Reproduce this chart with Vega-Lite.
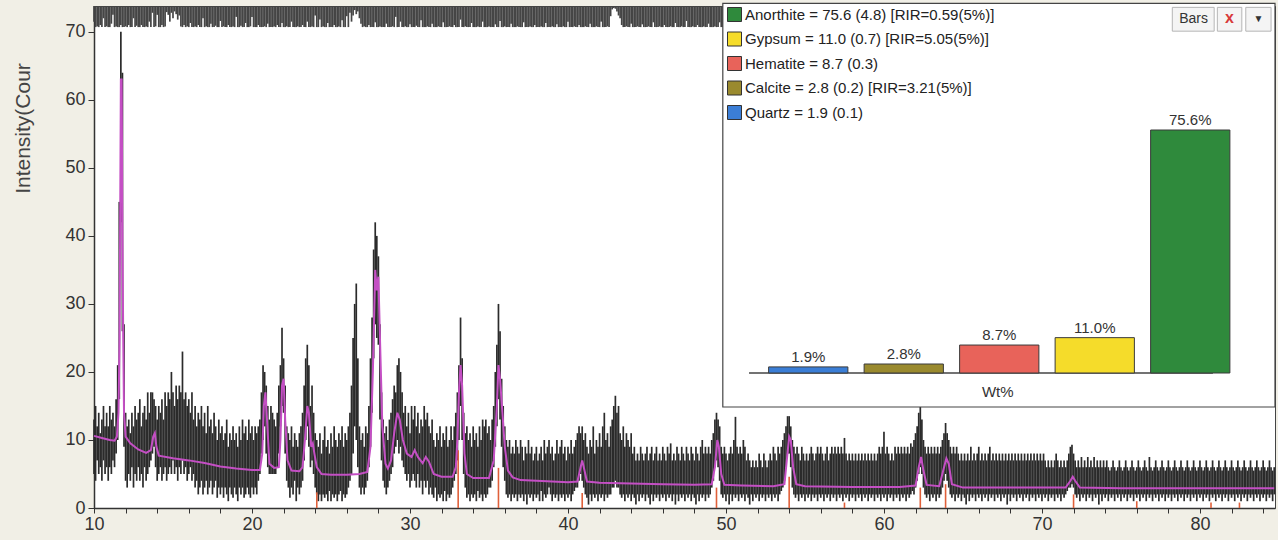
{
"$schema":"https://vega.github.io/schema/vega-lite/v6.json",
"width":1181,"height":502,"autosize":"none",
"padding":{"left":94,"top":6,"right":3,"bottom":32},
"background":"#f1efe6",
"config":{"view":{"fill":"#ffffff","stroke":"#444444","strokeWidth":1},"font":"Liberation Sans"},
"datasets":{
"scan":[
{"t":10.0,"l":5,"h":13,"u":71.5},{"t":10.1,"l":4,"h":15,"u":70.7},{"t":10.2,"l":7,"h":12,"u":70.8},{"t":10.3,"l":5,"h":14,"u":70.7},{"t":10.4,"l":6,"h":11,"u":71},{"t":10.5,"l":4,"h":13,"u":70.7},{"t":10.6,"l":7,"h":15,"u":72},{"t":10.7,"l":5,"h":12,"u":70.7},{"t":10.8,"l":6,"h":14,"u":70.8},{"t":10.9,"l":4,"h":12,"u":70.7},
{"t":11.0,"l":6,"h":15,"u":70.7},{"t":11.1,"l":5,"h":13,"u":71.2},{"t":11.2,"l":7,"h":14,"u":72.5},{"t":11.3,"l":6,"h":12,"u":70.7},{"t":11.4,"l":8,"h":16,"u":70.8},{"t":11.5,"l":10,"h":21,"u":70.7},{"t":11.6,"l":16,"h":45,"u":70.7},{"t":11.7,"l":42,"h":70,"u":71},{"t":11.8,"l":26,"h":64,"u":70.7},{"t":11.9,"l":9,"h":27,"u":70.7},
{"t":12.0,"l":4,"h":14,"u":70.8},{"t":12.1,"l":3,"h":12,"u":70.7},{"t":12.2,"l":5,"h":13,"u":71},{"t":12.3,"l":4,"h":11,"u":70.7},{"t":12.4,"l":6,"h":14,"u":70.7},{"t":12.5,"l":3,"h":12,"u":72},{"t":12.6,"l":5,"h":15,"u":70.7},{"t":12.7,"l":4,"h":13,"u":70.9},{"t":12.8,"l":6,"h":14,"u":70.7},{"t":12.9,"l":4,"h":16,"u":70.7},
{"t":13.0,"l":5,"h":12,"u":71},{"t":13.1,"l":3,"h":14,"u":70.7},{"t":13.2,"l":6,"h":15,"u":70.7},{"t":13.3,"l":4,"h":13,"u":70.8},{"t":13.4,"l":5,"h":17,"u":70.7},{"t":13.5,"l":6,"h":14,"u":71.5},{"t":13.6,"l":7,"h":17,"u":70.7},{"t":13.7,"l":8,"h":17,"u":72.8},{"t":13.8,"l":9,"h":16,"u":70.7},{"t":13.9,"l":6,"h":15,"u":70.8},
{"t":14.0,"l":4,"h":13,"u":72.5},{"t":14.1,"l":5,"h":15,"u":70.7},{"t":14.2,"l":6,"h":14,"u":70.7},{"t":14.3,"l":4,"h":16,"u":71},{"t":14.4,"l":5,"h":13,"u":70.7},{"t":14.5,"l":6,"h":17,"u":70.8},{"t":14.6,"l":4,"h":15,"u":72.9},{"t":14.7,"l":5,"h":17,"u":72.5},{"t":14.8,"l":6,"h":16,"u":71.5},{"t":14.9,"l":5,"h":20,"u":72.8},
{"t":15.0,"l":7,"h":17,"u":72},{"t":15.1,"l":5,"h":15,"u":73},{"t":15.2,"l":6,"h":18,"u":72.6},{"t":15.3,"l":4,"h":16,"u":71.8},{"t":15.4,"l":6,"h":18,"u":72.4},{"t":15.5,"l":5,"h":17,"u":70.8},{"t":15.6,"l":7,"h":23,"u":70.7},{"t":15.7,"l":5,"h":16,"u":71},{"t":15.8,"l":6,"h":17,"u":70.7},{"t":15.9,"l":4,"h":15,"u":70.8},
{"t":16.0,"l":5,"h":16,"u":70.7},{"t":16.1,"l":6,"h":14,"u":71.3},{"t":16.2,"l":4,"h":17,"u":70.7},{"t":16.3,"l":5,"h":13,"u":70.7},{"t":16.4,"l":3,"h":15,"u":70.8},{"t":16.5,"l":4,"h":12,"u":70.7},{"t":16.6,"l":2,"h":14,"u":71},{"t":16.7,"l":3,"h":13,"u":70.7},{"t":16.8,"l":4,"h":15,"u":70.7},{"t":16.9,"l":2,"h":12,"u":72},
{"t":17.0,"l":3,"h":14,"u":70.7},{"t":17.1,"l":4,"h":11,"u":70.8},{"t":17.2,"l":2,"h":15,"u":70.7},{"t":17.3,"l":3,"h":12,"u":70.7},{"t":17.4,"l":4,"h":13,"u":71.2},{"t":17.5,"l":2,"h":11,"u":70.7},{"t":17.6,"l":3,"h":14,"u":70.7},{"t":17.7,"l":4,"h":12,"u":70.9},{"t":17.8,"l":1.5,"h":10,"u":70.7},{"t":17.9,"l":3,"h":13,"u":70.7},
{"t":18.0,"l":2,"h":11,"u":71.6},{"t":18.1,"l":3,"h":12,"u":70.7},{"t":18.2,"l":1.5,"h":10,"u":70.8},{"t":18.3,"l":3,"h":11,"u":70.7},{"t":18.4,"l":2,"h":13,"u":70.7},{"t":18.5,"l":1,"h":9,"u":71},{"t":18.6,"l":3,"h":11,"u":70.7},{"t":18.7,"l":2,"h":10,"u":70.7},{"t":18.8,"l":1.5,"h":12,"u":70.8},{"t":18.9,"l":3,"h":10,"u":70.7},
{"t":19.0,"l":2,"h":11,"u":72.2},{"t":19.1,"l":1,"h":9,"u":70.7},{"t":19.2,"l":3,"h":12,"u":70.7},{"t":19.3,"l":2,"h":10,"u":70.9},{"t":19.4,"l":3,"h":13,"u":70.7},{"t":19.5,"l":1.5,"h":11,"u":70.7},{"t":19.6,"l":2,"h":12,"u":71.3},{"t":19.7,"l":3,"h":10,"u":70.7},{"t":19.8,"l":2,"h":13,"u":70.7},{"t":19.9,"l":1.5,"h":11,"u":70.8},
{"t":20.0,"l":3,"h":12,"u":72.2},{"t":20.1,"l":2,"h":10,"u":70.7},{"t":20.2,"l":3,"h":12,"u":70.7},{"t":20.3,"l":2,"h":11,"u":70.7},{"t":20.4,"l":4,"h":12,"u":71},{"t":20.5,"l":5,"h":13,"u":70.7},{"t":20.6,"l":8,"h":17,"u":70.7},{"t":20.7,"l":10,"h":21,"u":70.7},{"t":20.8,"l":12,"h":20,"u":70.8},{"t":20.9,"l":8,"h":18,"u":70.7},
{"t":21.0,"l":6,"h":15,"u":71.2},{"t":21.1,"l":5,"h":13,"u":70.7},{"t":21.2,"l":5,"h":15,"u":70.7},{"t":21.3,"l":5,"h":14,"u":70.7},{"t":21.4,"l":5,"h":13,"u":70.8},{"t":21.5,"l":5,"h":12,"u":70.7},{"t":21.6,"l":6,"h":14,"u":71},{"t":21.7,"l":8,"h":18,"u":70.7},{"t":21.8,"l":12,"h":21,"u":70.7},{"t":21.9,"l":15,"h":26.5,"u":71.3},
{"t":22.0,"l":14,"h":22,"u":70.7},{"t":22.1,"l":8,"h":18,"u":70.7},{"t":22.2,"l":4,"h":12,"u":70.8},{"t":22.3,"l":3,"h":11,"u":70.7},{"t":22.4,"l":1.5,"h":10,"u":70.7},{"t":22.5,"l":3,"h":12,"u":71.5},{"t":22.6,"l":2,"h":9,"u":70.7},{"t":22.7,"l":4,"h":11,"u":70.7},{"t":22.8,"l":1,"h":10,"u":70.7},{"t":22.9,"l":3,"h":9,"u":70.8},
{"t":23.0,"l":2,"h":11,"u":70.7},{"t":23.1,"l":3,"h":12,"u":70.7},{"t":23.2,"l":4,"h":14,"u":71},{"t":23.3,"l":7,"h":18,"u":70.7},{"t":23.4,"l":10,"h":22,"u":70.7},{"t":23.5,"l":12,"h":24,"u":71.5},{"t":23.6,"l":9,"h":21,"u":70.7},{"t":23.7,"l":6,"h":15,"u":70.7},{"t":23.8,"l":7,"h":18,"u":70.8},{"t":23.9,"l":5,"h":14,"u":70.7},
{"t":24.0,"l":3,"h":11,"u":72.4},{"t":24.1,"l":2,"h":10,"u":70.7},{"t":24.2,"l":1,"h":9,"u":70.7},{"t":24.3,"l":2,"h":11,"u":71.8},{"t":24.4,"l":1,"h":8,"u":70.7},{"t":24.5,"l":2,"h":10,"u":70.8},{"t":24.6,"l":1.5,"h":12,"u":70.7},{"t":24.7,"l":2,"h":9,"u":70.7},{"t":24.8,"l":1,"h":10,"u":71.3},{"t":24.9,"l":2.5,"h":8,"u":70.7},
{"t":25.0,"l":1,"h":11,"u":70.7},{"t":25.1,"l":2,"h":9,"u":70.7},{"t":25.2,"l":1.5,"h":12,"u":71},{"t":25.3,"l":2,"h":10,"u":70.7},{"t":25.4,"l":1,"h":9,"u":70.7},{"t":25.5,"l":2,"h":11,"u":70.8},{"t":25.6,"l":2.5,"h":10,"u":70.7},{"t":25.7,"l":1,"h":12,"u":71.7},{"t":25.8,"l":2,"h":9,"u":70.7},{"t":25.9,"l":1.5,"h":11,"u":70.7},
{"t":26.0,"l":2,"h":10,"u":72.3},{"t":26.1,"l":3,"h":12,"u":70.7},{"t":26.2,"l":4,"h":14,"u":72.8},{"t":26.3,"l":5,"h":18,"u":71.5},{"t":26.4,"l":8,"h":25,"u":72.4},{"t":26.5,"l":12,"h":30,"u":73.2},{"t":26.6,"l":10,"h":33,"u":72.6},{"t":26.7,"l":6,"h":22,"u":73},{"t":26.8,"l":3,"h":12,"u":72},{"t":26.9,"l":2,"h":10,"u":71.2},
{"t":27.0,"l":3,"h":11,"u":70.7},{"t":27.1,"l":2,"h":9,"u":70.8},{"t":27.2,"l":3,"h":12,"u":70.7},{"t":27.3,"l":4,"h":11,"u":70.7},{"t":27.4,"l":6,"h":15,"u":71},{"t":27.5,"l":9,"h":22,"u":70.7},{"t":27.6,"l":14,"h":28,"u":70.7},{"t":27.7,"l":22,"h":38,"u":70.7},{"t":27.8,"l":27,"h":42,"u":71.4},{"t":27.9,"l":25,"h":40,"u":70.7},
{"t":28.0,"l":24,"h":37,"u":70.7},{"t":28.1,"l":13,"h":27,"u":70.8},{"t":28.2,"l":7,"h":17,"u":70.7},{"t":28.3,"l":4,"h":13,"u":70.7},{"t":28.4,"l":3,"h":11,"u":70.7},{"t":28.5,"l":2,"h":12,"u":71.2},{"t":28.6,"l":3,"h":10,"u":70.7},{"t":28.7,"l":4,"h":13,"u":70.7},{"t":28.8,"l":5,"h":14,"u":70.7},{"t":28.9,"l":6,"h":16,"u":70.8},
{"t":29.0,"l":8,"h":18,"u":70.7},{"t":29.1,"l":9,"h":17,"u":72.2},{"t":29.2,"l":10,"h":21,"u":70.7},{"t":29.3,"l":8,"h":22,"u":70.7},{"t":29.4,"l":9,"h":20,"u":71.5},{"t":29.5,"l":7,"h":17,"u":70.7},{"t":29.6,"l":6,"h":14,"u":70.7},{"t":29.7,"l":5,"h":15,"u":70.8},{"t":29.8,"l":4,"h":12,"u":70.7},{"t":29.9,"l":5,"h":14,"u":70.7},
{"t":30.0,"l":3,"h":11,"u":71.1},{"t":30.1,"l":4,"h":15,"u":70.7},{"t":30.2,"l":5,"h":13,"u":70.7},{"t":30.3,"l":4,"h":15,"u":70.7},{"t":30.4,"l":3,"h":12,"u":70.9},{"t":30.5,"l":5,"h":14,"u":70.7},{"t":30.6,"l":3,"h":11,"u":70.7},{"t":30.7,"l":4,"h":13,"u":71.7},{"t":30.8,"l":2,"h":12,"u":70.7},{"t":30.9,"l":4,"h":15,"u":70.7},
{"t":31.0,"l":3,"h":13,"u":70.7},{"t":31.1,"l":4,"h":14,"u":70.8},{"t":31.2,"l":2,"h":12,"u":70.7},{"t":31.3,"l":3,"h":11,"u":70.7},{"t":31.4,"l":2,"h":13,"u":71.2},{"t":31.5,"l":1.5,"h":10,"u":70.7},{"t":31.6,"l":3,"h":9,"u":70.7},{"t":31.7,"l":1,"h":11,"u":70.7},{"t":31.8,"l":2,"h":10,"u":70.8},{"t":31.9,"l":1.5,"h":12,"u":70.7},
{"t":32.0,"l":2,"h":9,"u":70.7},{"t":32.1,"l":1,"h":11,"u":71.4},{"t":32.2,"l":2.5,"h":10,"u":70.7},{"t":32.3,"l":1,"h":12,"u":70.7},{"t":32.4,"l":2,"h":9,"u":70.7},{"t":32.5,"l":1.5,"h":10,"u":70.8},{"t":32.6,"l":2,"h":12,"u":70.7},{"t":32.7,"l":3,"h":10,"u":70.7},{"t":32.8,"l":4,"h":12,"u":71},{"t":32.9,"l":5,"h":14,"u":70.7},
{"t":33.0,"l":7,"h":17,"u":70.7},{"t":33.1,"l":10,"h":21,"u":70.7},{"t":33.2,"l":15,"h":28,"u":71.8},{"t":33.3,"l":10,"h":22,"u":70.7},{"t":33.4,"l":5,"h":14,"u":70.7},{"t":33.5,"l":3,"h":11,"u":70.8},{"t":33.6,"l":1.5,"h":12,"u":70.7},{"t":33.7,"l":2,"h":10,"u":70.7},{"t":33.8,"l":1,"h":11,"u":70.7},{"t":33.9,"l":2,"h":9,"u":71.3},
{"t":34.0,"l":1.5,"h":12,"u":70.7},{"t":34.1,"l":2,"h":10,"u":70.7},{"t":34.2,"l":1,"h":11,"u":70.7},{"t":34.3,"l":2.5,"h":9,"u":70.8},{"t":34.4,"l":1.5,"h":12,"u":70.7},{"t":34.5,"l":2,"h":10,"u":70.7},{"t":34.6,"l":1,"h":13,"u":71.5},{"t":34.7,"l":2,"h":12,"u":70.7},{"t":34.8,"l":1.5,"h":13,"u":70.7},{"t":34.9,"l":2,"h":11,"u":70.7},
{"t":35.0,"l":3,"h":12,"u":70.8},{"t":35.1,"l":3,"h":10,"u":70.7},{"t":35.2,"l":4,"h":13,"u":70.7},{"t":35.3,"l":6,"h":15,"u":70.7},{"t":35.4,"l":9,"h":20,"u":71.1},{"t":35.5,"l":12,"h":24,"u":70.7},{"t":35.6,"l":16,"h":30,"u":70.7},{"t":35.7,"l":13,"h":26,"u":71.6},{"t":35.8,"l":9,"h":19,"u":70.7},{"t":35.9,"l":6,"h":15,"u":70.7},
{"t":36.0,"l":4,"h":12,"u":70.8},{"t":36.1,"l":2,"h":10,"u":70.7},{"t":36.2,"l":1.5,"h":9,"u":70.7},{"t":36.3,"l":2,"h":10,"u":70.7},{"t":36.4,"l":1,"h":8,"u":71.2},{"t":36.5,"l":2,"h":9,"u":70.7},{"t":36.6,"l":1.5,"h":8,"u":70.7},{"t":36.7,"l":2,"h":10,"u":70.7},{"t":36.8,"l":1,"h":9,"u":70.8},{"t":36.9,"l":2,"h":8,"u":70.7},
{"t":37.0,"l":1.5,"h":10,"u":70.7},{"t":37.1,"l":2,"h":9,"u":70.7},{"t":37.2,"l":1,"h":7,"u":71.4},{"t":37.3,"l":2,"h":9,"u":70.7},{"t":37.4,"l":0.5,"h":8,"u":70.7},{"t":37.5,"l":2,"h":10,"u":70.7},{"t":37.6,"l":1.5,"h":8,"u":70.8},{"t":37.7,"l":2,"h":9,"u":70.7},{"t":37.8,"l":1,"h":7,"u":70.7},{"t":37.9,"l":2,"h":8,"u":71},
{"t":38.0,"l":1.5,"h":9,"u":70.7},{"t":38.1,"l":2,"h":7,"u":70.7},{"t":38.2,"l":1,"h":8,"u":70.7},{"t":38.3,"l":2.5,"h":9,"u":70.8},{"t":38.4,"l":1,"h":7,"u":70.7},{"t":38.5,"l":2,"h":10,"u":70.7},{"t":38.6,"l":1.5,"h":8,"u":71.3},{"t":38.7,"l":2,"h":9,"u":70.7},{"t":38.8,"l":3,"h":10,"u":70.7},{"t":38.9,"l":2,"h":8,"u":70.7},
{"t":39.0,"l":1,"h":9,"u":70.8},{"t":39.1,"l":2,"h":7,"u":70.7},{"t":39.2,"l":1.5,"h":8,"u":70.7},{"t":39.3,"l":2,"h":10,"u":71.1},{"t":39.4,"l":1,"h":8,"u":70.7},{"t":39.5,"l":2,"h":9,"u":70.7},{"t":39.6,"l":1.5,"h":10,"u":70.7},{"t":39.7,"l":2,"h":8,"u":70.8},{"t":39.8,"l":1,"h":9,"u":70.7},{"t":39.9,"l":2,"h":7,"u":70.7},
{"t":40.0,"l":1.5,"h":9,"u":71.5},{"t":40.1,"l":2,"h":8,"u":70.7},{"t":40.2,"l":1,"h":10,"u":70.7},{"t":40.3,"l":2,"h":8,"u":70.7},{"t":40.4,"l":2.5,"h":9,"u":70.8},{"t":40.5,"l":3,"h":10,"u":70.7},{"t":40.6,"l":3,"h":11,"u":70.7},{"t":40.7,"l":4,"h":12,"u":71},{"t":40.8,"l":5,"h":11,"u":70.7},{"t":40.9,"l":4,"h":12,"u":70.7},
{"t":41.0,"l":3,"h":10,"u":70.7},{"t":41.1,"l":2,"h":11,"u":70.8},{"t":41.2,"l":1.5,"h":9,"u":70.7},{"t":41.3,"l":0.5,"h":8,"u":70.7},{"t":41.4,"l":2,"h":10,"u":71.2},{"t":41.5,"l":1,"h":9,"u":70.7},{"t":41.6,"l":2,"h":12,"u":70.7},{"t":41.7,"l":1.5,"h":8,"u":70.7},{"t":41.8,"l":2,"h":10,"u":70.8},{"t":41.9,"l":1,"h":9,"u":70.7},
{"t":42.0,"l":2,"h":11,"u":70.7},{"t":42.1,"l":1.5,"h":9,"u":71.5},{"t":42.2,"l":2,"h":12,"u":70.7},{"t":42.3,"l":1,"h":14,"u":70.7},{"t":42.4,"l":2,"h":10,"u":70.7},{"t":42.5,"l":1.5,"h":11,"u":70.8},{"t":42.6,"l":2,"h":9,"u":70.7},{"t":42.7,"l":2,"h":12,"u":72.3},{"t":42.8,"l":3,"h":13,"u":73.3},{"t":42.9,"l":3,"h":15,"u":73.5},
{"t":43.0,"l":4,"h":16.5,"u":73.4},{"t":43.1,"l":3,"h":14,"u":73},{"t":43.2,"l":3,"h":15,"u":72.4},{"t":43.3,"l":2,"h":11,"u":72},{"t":43.4,"l":1.5,"h":10,"u":71},{"t":43.5,"l":2,"h":12,"u":70.7},{"t":43.6,"l":1,"h":9,"u":70.7},{"t":43.7,"l":2,"h":11,"u":70.8},{"t":43.8,"l":1.5,"h":10,"u":70.7},{"t":43.9,"l":2,"h":9,"u":70.7},
{"t":44.0,"l":1,"h":11,"u":71.2},{"t":44.1,"l":2,"h":8,"u":70.7},{"t":44.2,"l":1.5,"h":9,"u":70.7},{"t":44.3,"l":0.5,"h":7,"u":70.7},{"t":44.4,"l":2,"h":8,"u":70.8},{"t":44.5,"l":1,"h":7,"u":70.7},{"t":44.6,"l":2,"h":9,"u":70.7},{"t":44.7,"l":1.5,"h":8,"u":71.1},{"t":44.8,"l":2,"h":7,"u":70.7},{"t":44.9,"l":1,"h":8,"u":70.7},
{"t":45.0,"l":2,"h":9,"u":70.7},{"t":45.1,"l":1.5,"h":7,"u":70.8},{"t":45.2,"l":0.5,"h":8,"u":70.7},{"t":45.3,"l":2,"h":9,"u":70.7},{"t":45.4,"l":1,"h":7,"u":71.4},{"t":45.5,"l":2,"h":8,"u":70.7},{"t":45.6,"l":1.5,"h":9,"u":70.7},{"t":45.7,"l":2,"h":7,"u":70.7},{"t":45.8,"l":1,"h":8,"u":70.8},{"t":45.9,"l":2,"h":7,"u":70.7},
{"t":46.0,"l":1.5,"h":9,"u":70.7},{"t":46.1,"l":2,"h":8,"u":71},{"t":46.2,"l":1,"h":7,"u":70.7},{"t":46.3,"l":2,"h":9,"u":70.7},{"t":46.4,"l":1.5,"h":8,"u":70.7},{"t":46.5,"l":2,"h":9.5,"u":70.8},{"t":46.6,"l":1,"h":7,"u":70.7},{"t":46.7,"l":2,"h":8,"u":70.7},{"t":46.8,"l":0.5,"h":7,"u":71.3},{"t":46.9,"l":2,"h":9,"u":70.7},
{"t":47.0,"l":1,"h":8,"u":70.7},{"t":47.1,"l":2,"h":7,"u":70.7},{"t":47.2,"l":1.5,"h":9,"u":70.8},{"t":47.3,"l":2,"h":8,"u":70.7},{"t":47.4,"l":1,"h":7,"u":70.7},{"t":47.5,"l":2,"h":9,"u":71.6},{"t":47.6,"l":1.5,"h":8,"u":70.7},{"t":47.7,"l":2,"h":7,"u":70.7},{"t":47.8,"l":1,"h":9,"u":70.7},{"t":47.9,"l":2,"h":8,"u":70.8},
{"t":48.0,"l":1.5,"h":7,"u":70.7},{"t":48.1,"l":0.5,"h":9,"u":70.7},{"t":48.2,"l":2,"h":8,"u":71},{"t":48.3,"l":1,"h":7,"u":70.7},{"t":48.4,"l":2,"h":9,"u":70.7},{"t":48.5,"l":1.5,"h":10,"u":70.7},{"t":48.6,"l":2,"h":8,"u":70.8},{"t":48.7,"l":1,"h":9,"u":70.7},{"t":48.8,"l":2,"h":8,"u":70.7},{"t":48.9,"l":1.5,"h":9,"u":71.2},
{"t":49.0,"l":2,"h":8,"u":70.7},{"t":49.1,"l":3,"h":10,"u":70.7},{"t":49.2,"l":4,"h":11,"u":70.7},{"t":49.3,"l":6,"h":13,"u":70.8},{"t":49.4,"l":7,"h":14,"u":70.7},{"t":49.5,"l":6,"h":13,"u":70.7},{"t":49.6,"l":4,"h":12,"u":71.4},{"t":49.7,"l":2,"h":9,"u":70.7},{"t":49.8,"l":1.5,"h":8,"u":70.7},{"t":49.9,"l":2,"h":9,"u":70.7},
{"t":50.0,"l":1,"h":8,"u":70.8},{"t":50.1,"l":2,"h":7,"u":70.7},{"t":50.2,"l":0.5,"h":8,"u":70.7},{"t":50.3,"l":2,"h":9,"u":71.1},{"t":50.4,"l":1,"h":8,"u":70.7},{"t":50.5,"l":2,"h":10,"u":70.7},{"t":50.6,"l":1.5,"h":13.4,"u":70.7},{"t":50.7,"l":2,"h":9,"u":70.8},{"t":50.8,"l":1,"h":8,"u":70.7},{"t":50.9,"l":2,"h":9,"u":70.7},
{"t":51.0,"l":1.5,"h":8,"u":71.5},{"t":51.1,"l":2,"h":10,"u":70.7},{"t":51.2,"l":1,"h":9,"u":70.7},{"t":51.3,"l":2,"h":7,"u":70.7},{"t":51.4,"l":1.5,"h":8,"u":70.8},{"t":51.5,"l":0.5,"h":7,"u":70.7},{"t":51.6,"l":2,"h":6,"u":70.7},{"t":51.7,"l":1,"h":7,"u":71},{"t":51.8,"l":2,"h":6,"u":70.7},{"t":51.9,"l":1.5,"h":7,"u":70.7},
{"t":52.0,"l":2,"h":6,"u":70.7},{"t":52.1,"l":1,"h":8,"u":70.8},{"t":52.2,"l":2,"h":7,"u":70.7},{"t":52.3,"l":1.5,"h":6,"u":70.7},{"t":52.4,"l":2,"h":8,"u":71.2},{"t":52.5,"l":1,"h":7,"u":70.7},{"t":52.6,"l":2,"h":6,"u":70.7},{"t":52.7,"l":1.5,"h":7,"u":70.7},{"t":52.8,"l":2,"h":8,"u":70.8},{"t":52.9,"l":1,"h":7,"u":70.7},
{"t":53.0,"l":2,"h":9,"u":70.7},{"t":53.1,"l":1.5,"h":8,"u":71.3},{"t":53.2,"l":2,"h":7,"u":70.7},{"t":53.3,"l":1,"h":9,"u":70.7},{"t":53.4,"l":2,"h":8,"u":70.7},{"t":53.5,"l":2.5,"h":9,"u":70.8},{"t":53.6,"l":3,"h":10,"u":70.7},{"t":53.7,"l":4,"h":11,"u":70.7},{"t":53.8,"l":6,"h":12,"u":71},{"t":53.9,"l":8,"h":13.5,"u":70.7},
{"t":54.0,"l":8,"h":13.5,"u":70.7},{"t":54.1,"l":6,"h":12,"u":70.7},{"t":54.2,"l":3,"h":10,"u":70.8},{"t":54.3,"l":2,"h":9,"u":70.7},{"t":54.4,"l":1.5,"h":8,"u":70.7},{"t":54.5,"l":2,"h":9,"u":71.4},{"t":54.6,"l":1,"h":8,"u":70.7},{"t":54.7,"l":2,"h":7,"u":70.7},{"t":54.8,"l":1.5,"h":9,"u":70.7},{"t":54.9,"l":2,"h":8,"u":70.8},
{"t":55.0,"l":1,"h":7,"u":70.7},{"t":55.1,"l":2,"h":8,"u":70.7},{"t":55.2,"l":1.5,"h":7,"u":71.1},{"t":55.3,"l":2,"h":8,"u":70.7},{"t":55.4,"l":1,"h":9,"u":70.7},{"t":55.5,"l":2,"h":8,"u":70.7},{"t":55.6,"l":1.5,"h":7,"u":70.8},{"t":55.7,"l":2,"h":8,"u":70.7},{"t":55.8,"l":1,"h":9,"u":70.7},{"t":55.9,"l":2,"h":8,"u":71.5},
{"t":56.0,"l":1.5,"h":9,"u":70.7},{"t":56.1,"l":2,"h":8,"u":70.7},{"t":56.2,"l":1,"h":7,"u":70.7},{"t":56.3,"l":2,"h":8,"u":70.8},{"t":56.4,"l":1.5,"h":9,"u":70.7},{"t":56.5,"l":2,"h":7,"u":70.7},{"t":56.6,"l":1,"h":8,"u":71},{"t":56.7,"l":2,"h":9,"u":70.7},{"t":56.8,"l":1.5,"h":8,"u":70.7},{"t":56.9,"l":2,"h":9,"u":70.7},
{"t":57.0,"l":1,"h":8,"u":70.8},{"t":57.1,"l":2,"h":9,"u":70.7},{"t":57.2,"l":1.5,"h":8,"u":70.7},{"t":57.3,"l":2,"h":9,"u":71.2},{"t":57.4,"l":1,"h":8,"u":70.7},{"t":57.5,"l":2,"h":10.3,"u":70.7},{"t":57.6,"l":1.5,"h":8,"u":70.7},{"t":57.7,"l":2,"h":7,"u":70.8},{"t":57.8,"l":1,"h":8,"u":70.7},{"t":57.9,"l":2,"h":7,"u":70.7},
{"t":58.0,"l":1.5,"h":8,"u":71.4},{"t":58.1,"l":2,"h":7,"u":70.7},{"t":58.2,"l":1,"h":8,"u":70.7},{"t":58.3,"l":2,"h":7,"u":70.7},{"t":58.4,"l":1.5,"h":8,"u":70.8},{"t":58.5,"l":2,"h":7,"u":70.7},{"t":58.6,"l":1,"h":8,"u":70.7},{"t":58.7,"l":2,"h":7,"u":71.1},{"t":58.8,"l":1.5,"h":8,"u":70.7},{"t":58.9,"l":2,"h":7,"u":70.7},
{"t":59.0,"l":1,"h":8,"u":70.7},{"t":59.1,"l":2,"h":7,"u":70.8},{"t":59.2,"l":1.5,"h":8,"u":70.7},{"t":59.3,"l":2,"h":7,"u":70.7},{"t":59.4,"l":1,"h":8,"u":71.3},{"t":59.5,"l":2,"h":7,"u":70.7},{"t":59.6,"l":1.5,"h":8,"u":70.7},{"t":59.7,"l":2,"h":9,"u":70.7},{"t":59.8,"l":1,"h":8,"u":70.8},{"t":59.9,"l":2,"h":9,"u":70.7},
{"t":60.0,"l":1.5,"h":11.2,"u":70.7},{"t":60.1,"l":2,"h":8,"u":71},{"t":60.2,"l":1,"h":9,"u":70.7},{"t":60.3,"l":2,"h":8,"u":70.7},{"t":60.4,"l":1.5,"h":7,"u":70.7},{"t":60.5,"l":2,"h":8,"u":70.8},{"t":60.6,"l":1,"h":7,"u":70.7},{"t":60.7,"l":2,"h":9,"u":70.7},{"t":60.8,"l":1.5,"h":8,"u":71.5},{"t":60.9,"l":2,"h":9,"u":70.7},
{"t":61.0,"l":1,"h":8,"u":70.7},{"t":61.1,"l":2,"h":9,"u":70.7},{"t":61.2,"l":1.5,"h":8,"u":70.8},{"t":61.3,"l":2,"h":9,"u":70.7},{"t":61.4,"l":1,"h":8,"u":70.7},{"t":61.5,"l":2,"h":9,"u":71.2},{"t":61.6,"l":1.5,"h":8,"u":70.7},{"t":61.7,"l":2,"h":9.5,"u":70.7},{"t":61.8,"l":2.5,"h":9,"u":70.7},{"t":61.9,"l":2,"h":10,"u":70.8},
{"t":62.0,"l":3,"h":11,"u":70.7},{"t":62.1,"l":4,"h":12,"u":70.7},{"t":62.2,"l":5,"h":14,"u":71},{"t":62.3,"l":6,"h":16,"u":70.7},{"t":62.4,"l":5,"h":13,"u":70.7},{"t":62.5,"l":3,"h":10,"u":70.7},{"t":62.6,"l":2,"h":9,"u":70.8},{"t":62.7,"l":1.5,"h":8,"u":70.7},{"t":62.8,"l":2,"h":9,"u":70.7},{"t":62.9,"l":1,"h":8,"u":71.4},
{"t":63.0,"l":2,"h":9,"u":70.7},{"t":63.1,"l":1.5,"h":8,"u":70.7},{"t":63.2,"l":2,"h":9,"u":70.7},{"t":63.3,"l":1,"h":8,"u":70.8},{"t":63.4,"l":2,"h":9,"u":70.7},{"t":63.5,"l":1.5,"h":8,"u":70.7},{"t":63.6,"l":2,"h":9,"u":71.1},{"t":63.7,"l":3,"h":10,"u":70.7},{"t":63.8,"l":4,"h":11,"u":70.7},{"t":63.9,"l":5,"h":12.5,"u":70.7},
{"t":64.0,"l":4,"h":11,"u":70.8},{"t":64.1,"l":3,"h":10,"u":70.7},{"t":64.2,"l":2,"h":9,"u":70.7},{"t":64.3,"l":1.5,"h":8,"u":71.3},{"t":64.4,"l":2,"h":9,"u":70.7},{"t":64.5,"l":1,"h":8,"u":70.7},{"t":64.6,"l":2,"h":9,"u":70.7},{"t":64.7,"l":1.5,"h":8,"u":70.8},{"t":64.8,"l":2,"h":7,"u":70.7},{"t":64.9,"l":1,"h":8,"u":70.7},
{"t":65.0,"l":2,"h":7,"u":71},{"t":65.1,"l":1.5,"h":8,"u":70.7},{"t":65.2,"l":0.5,"h":7,"u":70.7},{"t":65.3,"l":2,"h":8,"u":70.7},{"t":65.4,"l":1,"h":7,"u":70.8},{"t":65.5,"l":2,"h":9,"u":70.7},{"t":65.6,"l":1.5,"h":7,"u":70.7},{"t":65.7,"l":2,"h":8,"u":71.2},{"t":65.8,"l":1,"h":7,"u":70.7},{"t":65.9,"l":2,"h":8,"u":70.7},
{"t":66.0,"l":1.5,"h":9,"u":70.7},{"t":66.1,"l":2,"h":7,"u":70.8},{"t":66.2,"l":1,"h":8,"u":70.7},{"t":66.3,"l":2,"h":7,"u":70.7},{"t":66.4,"l":1.5,"h":8,"u":71.5},{"t":66.5,"l":2,"h":7,"u":70.7},{"t":66.6,"l":1,"h":8,"u":70.7},{"t":66.7,"l":2,"h":9,"u":70.7},{"t":66.8,"l":1.5,"h":7,"u":70.8},{"t":66.9,"l":2,"h":8,"u":70.7},
{"t":67.0,"l":1,"h":7,"u":70.7},{"t":67.1,"l":2,"h":8,"u":71},{"t":67.2,"l":1.5,"h":7,"u":70.7},{"t":67.3,"l":2,"h":8,"u":70.7},{"t":67.4,"l":1,"h":7,"u":70.7},{"t":67.5,"l":2,"h":8,"u":70.8},{"t":67.6,"l":1.5,"h":7,"u":70.7},{"t":67.7,"l":2,"h":8,"u":70.7},{"t":67.8,"l":0.5,"h":7,"u":71.2},{"t":67.9,"l":2,"h":8,"u":70.7},
{"t":68.0,"l":1,"h":7,"u":70.7},{"t":68.1,"l":2,"h":8,"u":70.7},{"t":68.2,"l":1.5,"h":7,"u":70.8},{"t":68.3,"l":2,"h":8,"u":70.7},{"t":68.4,"l":1,"h":7,"u":70.7},{"t":68.5,"l":2,"h":8,"u":71.4},{"t":68.6,"l":1.5,"h":7,"u":70.7},{"t":68.7,"l":2,"h":8,"u":70.7},{"t":68.8,"l":1,"h":7,"u":70.7},{"t":68.9,"l":2,"h":8,"u":70.8},
{"t":69.0,"l":1.5,"h":7,"u":70.7},{"t":69.1,"l":2,"h":8,"u":70.7},{"t":69.2,"l":1,"h":7,"u":71.1},{"t":69.3,"l":2,"h":8,"u":70.7},{"t":69.4,"l":1.5,"h":7,"u":70.7},{"t":69.5,"l":2,"h":8,"u":70.7},{"t":69.6,"l":1,"h":7,"u":70.8},{"t":69.7,"l":2,"h":8,"u":70.7},{"t":69.8,"l":1.5,"h":7,"u":70.7},{"t":69.9,"l":2,"h":8,"u":71.3},
{"t":70.0,"l":1,"h":7,"u":70.7},{"t":70.1,"l":2,"h":8,"u":70.7},{"t":70.2,"l":1.5,"h":7,"u":70.7},{"t":70.3,"l":2,"h":6,"u":70.8},{"t":70.4,"l":1,"h":7,"u":70.7},{"t":70.5,"l":2,"h":6,"u":70.7},{"t":70.6,"l":1.5,"h":7,"u":71},{"t":70.7,"l":2,"h":6,"u":70.7},{"t":70.8,"l":1,"h":7,"u":70.7},{"t":70.9,"l":2,"h":8,"u":70.7},
{"t":71.0,"l":1.5,"h":7,"u":70.8},{"t":71.1,"l":2,"h":6,"u":70.7},{"t":71.2,"l":1,"h":7,"u":70.7},{"t":71.3,"l":2,"h":6,"u":71.2},{"t":71.4,"l":1.5,"h":7,"u":70.7},{"t":71.5,"l":2,"h":6,"u":70.7},{"t":71.6,"l":2.5,"h":7,"u":70.7},{"t":71.7,"l":3,"h":8,"u":70.8},{"t":71.8,"l":3,"h":9,"u":70.7},{"t":71.9,"l":3.5,"h":9.3,"u":70.7},
{"t":72.0,"l":3,"h":8,"u":71.5},{"t":72.1,"l":2,"h":7,"u":70.7},{"t":72.2,"l":1.5,"h":6,"u":70.7},{"t":72.3,"l":2,"h":7,"u":70.7},{"t":72.4,"l":1,"h":6,"u":70.8},{"t":72.5,"l":2,"h":7.5,"u":70.7},{"t":72.6,"l":1.5,"h":6,"u":70.7},{"t":72.7,"l":2,"h":7,"u":71},{"t":72.8,"l":1,"h":6,"u":70.7},{"t":72.9,"l":2,"h":7.5,"u":70.7},
{"t":73.0,"l":1.5,"h":6,"u":70.7},{"t":73.1,"l":2,"h":7,"u":70.8},{"t":73.2,"l":1,"h":6,"u":70.7},{"t":73.3,"l":2,"h":7.5,"u":70.7},{"t":73.4,"l":1.5,"h":6,"u":71.3},{"t":73.5,"l":2,"h":7,"u":70.7},{"t":73.6,"l":0.5,"h":6,"u":70.7},{"t":73.7,"l":2,"h":7,"u":70.7},{"t":73.8,"l":1,"h":6,"u":70.8},{"t":73.9,"l":2,"h":7,"u":70.7},
{"t":74.0,"l":1.5,"h":6,"u":70.7},{"t":74.1,"l":2,"h":7,"u":71.1},{"t":74.2,"l":1,"h":6,"u":70.7},{"t":74.3,"l":2,"h":5.5,"u":70.7},{"t":74.4,"l":1.5,"h":6,"u":70.7},{"t":74.5,"l":2,"h":7,"u":70.8},{"t":74.6,"l":1,"h":6,"u":70.7},{"t":74.7,"l":2,"h":5.5,"u":70.7},{"t":74.8,"l":1.5,"h":6,"u":71.4},{"t":74.9,"l":2,"h":7,"u":70.7},
{"t":75.0,"l":1,"h":6,"u":70.7},{"t":75.1,"l":2,"h":5.5,"u":70.7},{"t":75.2,"l":1.5,"h":6,"u":70.8},{"t":75.3,"l":2,"h":7,"u":70.7},{"t":75.4,"l":1,"h":6,"u":70.7},{"t":75.5,"l":2,"h":5.5,"u":71},{"t":75.6,"l":1.5,"h":6,"u":70.7},{"t":75.7,"l":2,"h":7,"u":70.7},{"t":75.8,"l":1,"h":6,"u":70.7},{"t":75.9,"l":2,"h":5.5,"u":70.8},
{"t":76.0,"l":1.5,"h":6,"u":70.7},{"t":76.1,"l":2,"h":7,"u":70.7},{"t":76.2,"l":1,"h":6,"u":71.2},{"t":76.3,"l":2,"h":5.5,"u":70.7},{"t":76.4,"l":1.5,"h":6,"u":70.7},{"t":76.5,"l":2,"h":7,"u":70.7},{"t":76.6,"l":1,"h":6,"u":70.8},{"t":76.7,"l":2,"h":5.5,"u":70.7},{"t":76.8,"l":1.5,"h":7.5,"u":70.7},{"t":76.9,"l":2,"h":6,"u":71.5},
{"t":77.0,"l":1,"h":5.5,"u":70.7},{"t":77.1,"l":2,"h":6,"u":70.7},{"t":77.2,"l":1.5,"h":7,"u":70.7},{"t":77.3,"l":2,"h":6,"u":70.8},{"t":77.4,"l":1,"h":5.5,"u":70.7},{"t":77.5,"l":2,"h":6,"u":70.7},{"t":77.6,"l":1.5,"h":7,"u":71.1},{"t":77.7,"l":2,"h":6,"u":70.7},{"t":77.8,"l":1,"h":5.5,"u":70.7},{"t":77.9,"l":2,"h":6,"u":70.7},
{"t":78.0,"l":1.5,"h":7,"u":70.8},{"t":78.1,"l":2,"h":6,"u":70.7},{"t":78.2,"l":1,"h":5.5,"u":70.7},{"t":78.3,"l":2,"h":6,"u":71.3},{"t":78.4,"l":1.5,"h":7,"u":70.7},{"t":78.5,"l":2,"h":6,"u":70.7},{"t":78.6,"l":1,"h":5.5,"u":70.7},{"t":78.7,"l":2,"h":6,"u":70.8},{"t":78.8,"l":1.5,"h":7,"u":70.7},{"t":78.9,"l":2,"h":6,"u":70.7},
{"t":79.0,"l":1,"h":5.5,"u":71},{"t":79.1,"l":2,"h":6,"u":70.7},{"t":79.2,"l":1.5,"h":7,"u":70.7},{"t":79.3,"l":2,"h":6,"u":70.7},{"t":79.4,"l":1,"h":5.5,"u":70.8},{"t":79.5,"l":2,"h":6,"u":70.7},{"t":79.6,"l":1.5,"h":7,"u":70.7},{"t":79.7,"l":2,"h":6,"u":71.2},{"t":79.8,"l":1,"h":5.5,"u":70.7},{"t":79.9,"l":2,"h":6,"u":70.7},
{"t":80.0,"l":1.5,"h":7,"u":70.7},{"t":80.1,"l":2,"h":6,"u":70.8},{"t":80.2,"l":1,"h":5.5,"u":70.7},{"t":80.3,"l":2,"h":6,"u":70.7},{"t":80.4,"l":1.5,"h":7,"u":71.4},{"t":80.5,"l":2,"h":6,"u":70.7},{"t":80.6,"l":1,"h":5.5,"u":70.7},{"t":80.7,"l":2,"h":6,"u":70.7},{"t":80.8,"l":1.5,"h":7,"u":70.8},{"t":80.9,"l":2,"h":6,"u":70.7},
{"t":81.0,"l":1,"h":5.5,"u":70.7},{"t":81.1,"l":2,"h":6,"u":71.1},{"t":81.2,"l":1.5,"h":7,"u":70.7},{"t":81.3,"l":2,"h":6,"u":70.7},{"t":81.4,"l":1,"h":5.5,"u":70.7},{"t":81.5,"l":2,"h":6,"u":70.8},{"t":81.6,"l":1.5,"h":7,"u":70.7},{"t":81.7,"l":2,"h":6,"u":70.7},{"t":81.8,"l":1,"h":5.5,"u":71.3},{"t":81.9,"l":2,"h":6,"u":70.7},
{"t":82.0,"l":1.5,"h":7,"u":70.7},{"t":82.1,"l":2,"h":6,"u":70.7},{"t":82.2,"l":1,"h":5.5,"u":70.8},{"t":82.3,"l":2,"h":6,"u":70.7},{"t":82.4,"l":1.5,"h":7,"u":70.7},{"t":82.5,"l":2,"h":6,"u":71},{"t":82.6,"l":1,"h":5.5,"u":70.7},{"t":82.7,"l":2,"h":6,"u":70.7},{"t":82.8,"l":1.5,"h":7,"u":70.7},{"t":82.9,"l":2,"h":6,"u":70.8},
{"t":83.0,"l":1,"h":5.5,"u":70.7},{"t":83.1,"l":2,"h":6,"u":70.7},{"t":83.2,"l":1.5,"h":7,"u":71.2},{"t":83.3,"l":2,"h":6,"u":70.7},{"t":83.4,"l":1,"h":5.5,"u":70.7},{"t":83.5,"l":2,"h":6,"u":70.7},{"t":83.6,"l":1.5,"h":7,"u":70.8},{"t":83.7,"l":2,"h":6,"u":70.7},{"t":83.8,"l":1,"h":5.5,"u":70.7},{"t":83.9,"l":2,"h":6,"u":71.5},
{"t":84.0,"l":1.5,"h":7,"u":70.7},{"t":84.1,"l":2,"h":6,"u":70.7},{"t":84.2,"l":1,"h":5.5,"u":70.7},{"t":84.3,"l":2,"h":6,"u":70.8},{"t":84.4,"l":1.5,"h":7,"u":70.7},{"t":84.5,"l":2,"h":6,"u":70.7},{"t":84.6,"l":1,"h":5.5,"u":71},{"t":84.7,"l":2,"h":6,"u":70.7}
],
"fit":[
{"t":10.0,"f":10.6},{"t":10.5,"f":10.3},{"t":11.0,"f":10.0},{"t":11.3,"f":9.9},{"t":11.45,"f":10.5},{"t":11.55,"f":14},{"t":11.62,"f":25},{"t":11.66,"f":44},{"t":11.7,"f":63},{"t":11.75,"f":63},{"t":11.8,"f":40},{"t":11.85,"f":25},{"t":11.9,"f":14},{"t":12.0,"f":10.5},{"t":12.3,"f":9.5},{"t":12.8,"f":8.6},{"t":13.3,"f":8.1},{"t":13.6,"f":8.5},{"t":13.75,"f":10.5},{"t":13.85,"f":11},{"t":13.95,"f":9},{"t":14.1,"f":7.7},{"t":15,"f":7.3},{"t":16,"f":7.0},{"t":17,"f":6.6},{"t":18,"f":6.1},{"t":19,"f":5.8},{"t":20,"f":5.6},{"t":20.5,"f":5.6},{"t":20.65,"f":8},{"t":20.75,"f":15},{"t":20.85,"f":17},{"t":20.95,"f":13},{"t":21.1,"f":6.5},{"t":21.4,"f":5.9},{"t":21.7,"f":6},{"t":21.8,"f":10},{"t":21.9,"f":18},{"t":22.0,"f":19},{"t":22.1,"f":13},{"t":22.25,"f":7},{"t":22.5,"f":5.5},{"t":23.0,"f":5.4},{"t":23.2,"f":6},{"t":23.35,"f":10},{"t":23.5,"f":15},{"t":23.6,"f":14},{"t":23.75,"f":9},{"t":23.85,"f":9.5},{"t":23.95,"f":8},{"t":24.1,"f":6},{"t":24.4,"f":5},{"t":25,"f":4.9},{"t":26,"f":4.9},{"t":26.8,"f":5.0},{"t":27.3,"f":5.3},{"t":27.5,"f":9},{"t":27.65,"f":20},{"t":27.8,"f":35},{"t":27.9,"f":32},{"t":28.0,"f":34},{"t":28.1,"f":25},{"t":28.25,"f":12},{"t":28.45,"f":6.5},{"t":28.6,"f":5.8},{"t":28.8,"f":7},{"t":29.0,"f":11},{"t":29.2,"f":14},{"t":29.35,"f":13},{"t":29.55,"f":10},{"t":29.8,"f":8},{"t":30.1,"f":7.5},{"t":30.3,"f":8.5},{"t":30.5,"f":7.5},{"t":30.8,"f":6.6},{"t":31.0,"f":7.5},{"t":31.2,"f":6.8},{"t":31.5,"f":5},{"t":32,"f":4.6},{"t":32.7,"f":4.6},{"t":32.9,"f":6},{"t":33.0,"f":10},{"t":33.1,"f":17},{"t":33.2,"f":21},{"t":33.3,"f":18},{"t":33.45,"f":8},{"t":33.6,"f":5},{"t":34,"f":4.4},{"t":35,"f":4.4},{"t":35.3,"f":7},{"t":35.5,"f":15},{"t":35.6,"f":21},{"t":35.7,"f":19},{"t":35.85,"f":14},{"t":36.0,"f":9},{"t":36.2,"f":5.5},{"t":36.5,"f":4.5},{"t":37,"f":4.1},{"t":38,"f":4.0},{"t":39,"f":3.9},{"t":40,"f":3.8},{"t":40.6,"f":3.9},{"t":40.8,"f":6},{"t":40.9,"f":7},{"t":41.0,"f":6},{"t":41.2,"f":3.9},{"t":42,"f":3.7},{"t":44,"f":3.6},{"t":46,"f":3.5},{"t":48,"f":3.4},{"t":49.1,"f":3.5},{"t":49.3,"f":6},{"t":49.45,"f":10},{"t":49.55,"f":9},{"t":49.7,"f":5},{"t":49.9,"f":3.4},{"t":51,"f":3.3},{"t":53,"f":3.2},{"t":53.7,"f":3.5},{"t":53.85,"f":7},{"t":54.0,"f":10.5},{"t":54.1,"f":10},{"t":54.25,"f":6},{"t":54.45,"f":3.5},{"t":55,"f":3.2},{"t":58,"f":3.1},{"t":61,"f":3.1},{"t":62.0,"f":3.3},{"t":62.2,"f":6},{"t":62.35,"f":7.5},{"t":62.5,"f":5.5},{"t":62.7,"f":3.4},{"t":63.5,"f":3.2},{"t":63.75,"f":5.5},{"t":63.95,"f":7.3},{"t":64.1,"f":6.5},{"t":64.3,"f":3.5},{"t":65,"f":3.0},{"t":68,"f":3.0},{"t":71.5,"f":3.0},{"t":71.8,"f":4.0},{"t":71.95,"f":4.6},{"t":72.1,"f":4.0},{"t":72.4,"f":3.0},{"t":75,"f":2.9},{"t":80,"f":2.9},{"t":84.7,"f":2.9}
],
"refs":[
{"t":24.1,"r":2.3},{"t":33.05,"r":8.5},{"t":35.6,"r":5.9},{"t":40.9,"r":2.2},{"t":49.4,"r":3},{"t":54.0,"r":4.6},{"t":57.5,"r":0.8},{"t":62.3,"r":3},{"t":63.9,"r":3.5},{"t":72.0,"r":2},{"t":76.0,"r":1},{"t":80.7,"r":0.8},{"t":82.5,"r":0.8}
],
"phases":[
{"name":"Quartz","wt":1.9,"pct":"1.9%","label":"Quartz = 1.9 (0.1)"},
{"name":"Calcite","wt":2.8,"pct":"2.8%","label":"Calcite = 2.8 (0.2) [RIR=3.21(5%)]"},
{"name":"Hematite","wt":8.7,"pct":"8.7%","label":"Hematite = 8.7 (0.3)"},
{"name":"Gypsum","wt":11.0,"pct":"11.0%","label":"Gypsum = 11.0 (0.7) [RIR=5.05(5%)]"},
{"name":"Anorthite","wt":75.6,"pct":"75.6%","label":"Anorthite = 75.6 (4.8) [RIR=0.59(5%)]"}
]
},
"layer":[
{"resolve":{"axis":{"x":"independent"}},
 "layer":[
{"data":{"name":"scan"},"mark":{"type":"rule","color":"#2b2b2b","strokeWidth":1.7},
 "encoding":{
  "x":{"field":"t","type":"quantitative","scale":{"domain":[10,84.75],"nice":false,"zero":false},
   "axis":{"orient":"bottom","values":[10,20,30,40,50,60,70,80],"title":null,"grid":false,"tickSize":5,"tickColor":"#333333","domainColor":"#333333","domainWidth":1.5,
    "labelFontSize":18,"labelColor":"#333333","labelPadding":2,"labelFlush":false,"labelOverlap":false,"labelFont":"Liberation Sans"}},
  "y":{"field":"l","type":"quantitative","scale":{"domain":[0,73.8],"nice":false,"zero":false},
   "axis":{"values":[0,10,20,30,40,50,60,70],"title":"Intensity(Cour","titleX":-71,"titleY":122,"titleAngle":270,"titleAlign":"center","titleBaseline":"middle",
    "titleFontSize":21,"titleFontWeight":"normal","titleColor":"#444444","titleFont":"Liberation Sans","grid":false,"tickSize":6,"tickColor":"#333333",
    "domainColor":"#333333","domainWidth":1.5,"labelFontSize":18,"labelColor":"#333333","labelPadding":3,"labelFont":"Liberation Sans"}},
  "y2":{"field":"h"}}},
{"data":{"name":"scan"},"mark":{"type":"rule","color":"#454545","strokeWidth":1.7},
 "encoding":{"x":{"field":"t","type":"quantitative",
   "axis":{"orient":"bottom","values":[12,14,16,18,22,24,26,28,32,34,36,38,42,44,46,48,52,54,56,58,62,64,66,68,72,74,76,78,82,84],"labels":false,"domain":false,"title":null,"grid":false,"tickSize":5,"tickColor":"#333333"}},
  "y":{"field":"u","type":"quantitative"},"y2":{"datum":73.8}}},
{"data":{"name":"refs"},"mark":{"type":"rule","color":"#e0603a","strokeWidth":1.6},
 "encoding":{"x":{"field":"t","type":"quantitative","axis":null},"y":{"field":"r","type":"quantitative"},"y2":{"datum":0}}},
{"data":{"name":"fit"},"mark":{"type":"line","color":"#c44fc4","strokeWidth":2},
 "encoding":{"x":{"field":"t","type":"quantitative","axis":null},"y":{"field":"f","type":"quantitative"}}},
{"data":{"values":[{}]},"mark":{"type":"rect","fill":"#ffffff","stroke":"#444444","strokeWidth":1.2},
 "encoding":{"x":{"datum":49.8,"type":"quantitative","axis":null},"x2":{"datum":84.75},"y":{"datum":14.85,"type":"quantitative"},"y2":{"datum":74.2}}},
{"data":{"values":[{}]},"mark":{"type":"rule","color":"#444444","strokeWidth":1.5},
 "encoding":{"x":{"datum":51.46,"type":"quantitative","axis":null},"x2":{"datum":80.82},"y":{"datum":19.85,"type":"quantitative"}}},
{"data":{"values":[{}]},"mark":{"type":"text","text":"Wt%","fontSize":15,"color":"#333333","baseline":"middle"},
 "encoding":{"x":{"datum":67.2,"type":"quantitative","axis":null},"y":{"datum":17.06,"type":"quantitative"}}},
{"data":{"values":[{}]},"mark":{"type":"rect","fill":"#f4f4f4","stroke":"#b5b5b5","strokeWidth":1},
 "encoding":{"x":{"datum":78.25,"type":"quantitative","axis":null},"x2":{"datum":80.9},"y":{"datum":70.1,"type":"quantitative"},"y2":{"datum":73.6}}},
{"data":{"values":[{}]},"mark":{"type":"rect","fill":"#f4f4f4","stroke":"#b5b5b5","strokeWidth":1},
 "encoding":{"x":{"datum":81.1,"type":"quantitative","axis":null},"x2":{"datum":82.65},"y":{"datum":70.1,"type":"quantitative"},"y2":{"datum":73.6}}},
{"data":{"values":[{}]},"mark":{"type":"rect","fill":"#f4f4f4","stroke":"#b5b5b5","strokeWidth":1},
 "encoding":{"x":{"datum":82.9,"type":"quantitative","axis":null},"x2":{"datum":84.5},"y":{"datum":70.1,"type":"quantitative"},"y2":{"datum":73.6}}},
{"data":{"values":[{}]},"mark":{"type":"text","text":"Bars","fontSize":14,"color":"#333333","baseline":"middle"},
 "encoding":{"x":{"datum":79.6,"type":"quantitative","axis":null},"y":{"datum":71.9,"type":"quantitative"}}},
{"data":{"values":[{}]},"mark":{"type":"text","text":"x","fontSize":16,"fontWeight":"bold","color":"#d83a3a","baseline":"middle"},
 "encoding":{"x":{"datum":81.87,"type":"quantitative","axis":null},"y":{"datum":72.1,"type":"quantitative"}}},
{"data":{"values":[{}]},"mark":{"type":"text","text":"▼","fontSize":10,"color":"#333333","baseline":"middle"},
 "encoding":{"x":{"datum":83.7,"type":"quantitative","axis":null},"y":{"datum":71.9,"type":"quantitative"}}}
]},
{"data":{"name":"phases"},"layer":[
{"mark":{"type":"bar","stroke":"#3a3a3a","strokeWidth":1},
 "encoding":{
  "x":{"field":"name","type":"nominal","scale":{"domain":["Quartz","Calcite","Hematite","Gypsum","Anorthite"],"range":[666.5,1144],"paddingInner":0.17,"paddingOuter":0.085},"axis":null},
  "y":{"field":"wt","type":"quantitative","scale":{"domain":[0,75.6],"range":[367,124],"nice":false,"zero":true},"axis":null},
  "color":{"field":"label","type":"nominal",
   "scale":{"domain":["Anorthite = 75.6 (4.8) [RIR=0.59(5%)]","Gypsum = 11.0 (0.7) [RIR=5.05(5%)]","Hematite = 8.7 (0.3)","Calcite = 2.8 (0.2) [RIR=3.21(5%)]","Quartz = 1.9 (0.1)"],
    "range":["#2f8a3c","#f5dc2a","#e8635a","#9a8a2e","#3b7ed6"]},
   "legend":{"orient":"none","legendX":633,"legendY":1,"title":null,"symbolType":"square","symbolSize":196,"symbolStrokeColor":"#333333","symbolStrokeWidth":1,"symbolOpacity":1,
    "labelFontSize":15,"labelFont":"Liberation Sans","labelColor":"#222222","labelLimit":500,"rowPadding":5.5,"labelOffset":3,"padding":0}}}},
{"mark":{"type":"text","fontSize":15,"color":"#333333","baseline":"bottom","dy":-2},
 "encoding":{
  "x":{"field":"name","type":"nominal","scale":{"domain":["Quartz","Calcite","Hematite","Gypsum","Anorthite"],"range":[666.5,1144],"paddingInner":0.17,"paddingOuter":0.085},"axis":null},
  "y":{"field":"wt","type":"quantitative","scale":{"domain":[0,75.6],"range":[367,124],"nice":false,"zero":true},"axis":null},
  "text":{"field":"pct"}}}
]}
],
"resolve":{"scale":{"x":"independent","y":"independent"}}
}
